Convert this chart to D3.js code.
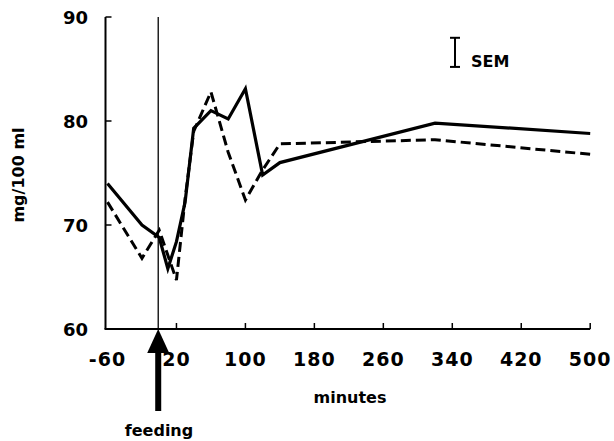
<!DOCTYPE html>
<html>
<head>
<meta charset="utf-8">
<script src="https://cdn.jsdelivr.net/npm/d3@7"></script>
<style>
  body { margin: 0; background: #fff; }
  text { font-family: "DejaVu Sans", sans-serif; font-weight: bold; fill: #000; }
</style>
</head>
<body>
<svg id="chart" width="614" height="441"></svg>
<script>
// values
var minutesSolid = [-60, -20, 0, 10, 20, 30, 40, 60, 80, 100, 120, 140, 320, 500];
var solidValues = [74, 70, 68.8, 65.8, 68.4, 72.2, 79.3, 81, 80.2, 83.1, 74.8, 76, 79.8, 78.8];

var minutesDashed = [-60, -20, 0, 20, 30, 40, 60, 80, 100, 120, 140, 320, 500];
var dashedValues = [72.2, 66.8, 69.5, 64.7, 72.5, 79, 82.8, 77, 72.4, 75.3, 77.8, 78.2, 76.8];

var xTicks = [-60, 20, 100, 180, 260, 340, 420, 500];
var yTicks = [60, 70, 80, 90];
var semTop = 88.0, semBottom = 85.2;

const svg = d3.select("#chart");

var x = d3.scaleLinear().domain([-60, 500]).range([107.5, 590.2]);
var y = d3.scaleLinear().domain([60, 90]).range([329, 17]);
var axisX = x(-60) - 2;

// axes
svg.append("line")
  .attr("x1", axisX).attr("x2", axisX)
  .attr("y1", y(90)).attr("y2", y(60))
  .attr("stroke", "#000").attr("stroke-width", 2);
svg.append("line")
  .attr("x1", axisX - 1).attr("x2", x(500))
  .attr("y1", y(60)).attr("y2", y(60))
  .attr("stroke", "#000").attr("stroke-width", 2);

// small inward ticks
svg.selectAll("line.ytick")
  .data(yTicks.slice(1))
  .enter()
  .append("line")
  .attr("class", "ytick")
  .attr("x1", axisX).attr("x2", axisX + 6)
  .attr("y1", function (d) { return y(d); })
  .attr("y2", function (d) { return y(d); })
  .attr("stroke", "#000").attr("stroke-width", 1.5);

svg.selectAll("line.xtick")
  .data(xTicks.slice(1))
  .enter()
  .append("line")
  .attr("class", "xtick")
  .attr("x1", function (d) { return x(d); })
  .attr("x2", function (d) { return x(d); })
  .attr("y1", y(60)).attr("y2", y(60) - 6)
  .attr("stroke", "#000").attr("stroke-width", 1.5);

// tick labels
svg.selectAll("text.ylab")
  .data(yTicks)
  .enter()
  .append("text")
  .attr("class", "ylab")
  .attr("x", 88)
  .attr("y", function (d) { return y(d) + 7; })
  .attr("text-anchor", "end")
  .attr("font-size", 18)
  .text(function (d) { return d; });

svg.selectAll("text.xlab")
  .data(xTicks)
  .enter()
  .append("text")
  .attr("class", "xlab")
  .attr("x", function (d) { return x(d); })
  .attr("y", 366)
  .attr("text-anchor", "middle")
  .attr("font-size", 19)
  .attr("letter-spacing", 1)
  .text(function (d) { return d; });

svg.append("text")
  .attr("x", 350).attr("y", 403)
  .attr("text-anchor", "middle")
  .attr("font-size", 16)
  .text("minutes");

svg.append("text")
  .attr("transform", "translate(24,175) rotate(-90)")
  .attr("text-anchor", "middle")
  .attr("font-size", 16)
  .text("mg/100 ml");

// feeding marker
svg.append("line")
  .attr("x1", x(0) - 1).attr("x2", x(0) - 1)
  .attr("y1", y(90)).attr("y2", y(60))
  .attr("stroke", "#000").attr("stroke-width", 1.3);

var line = d3.line()
  .x(function (d) { return x(d[0]); })
  .y(function (d) { return y(d[1]); });

svg.append("path")
  .attr("d", line(d3.zip(minutesDashed, dashedValues)))
  .attr("fill", "none")
  .attr("stroke", "#000")
  .attr("stroke-width", 3)
  .attr("stroke-dasharray", "10,5")
  .attr("stroke-linejoin", "miter");

svg.append("path")
  .attr("d", line(d3.zip(minutesSolid, solidValues)))
  .attr("fill", "none")
  .attr("stroke", "#000")
  .attr("stroke-width", 3.2)
  .attr("stroke-linejoin", "miter");

var ax = x(0) - 1, ay = y(60);
svg.append("rect")
  .attr("x", ax - 3).attr("y", ay + 18)
  .attr("width", 6).attr("height", 64)
  .attr("fill", "#000");
svg.append("path")
  .attr("d", "M" + ax + "," + ay + " L" + (ax + 11) + "," + (ay + 24) + " L" + (ax - 11) + "," + (ay + 24) + " Z")
  .attr("fill", "#000");

svg.append("text")
  .attr("x", 159).attr("y", 436)
  .attr("text-anchor", "middle")
  .attr("font-size", 16)
  .text("feeding");

// SEM bar
var semX = 455;
var sem = svg.append("g").attr("stroke", "#000").attr("stroke-width", 2);
sem.append("line").attr("x1", semX).attr("x2", semX).attr("y1", y(semTop)).attr("y2", y(semBottom));
sem.append("line").attr("x1", semX - 5).attr("x2", semX + 5).attr("y1", y(semTop)).attr("y2", y(semTop));
sem.append("line").attr("x1", semX - 5).attr("x2", semX + 5).attr("y1", y(semBottom)).attr("y2", y(semBottom));

svg.append("text")
  .attr("x", 471).attr("y", 67)
  .attr("font-size", 16)
  .text("SEM");
</script>
</body>
</html>
